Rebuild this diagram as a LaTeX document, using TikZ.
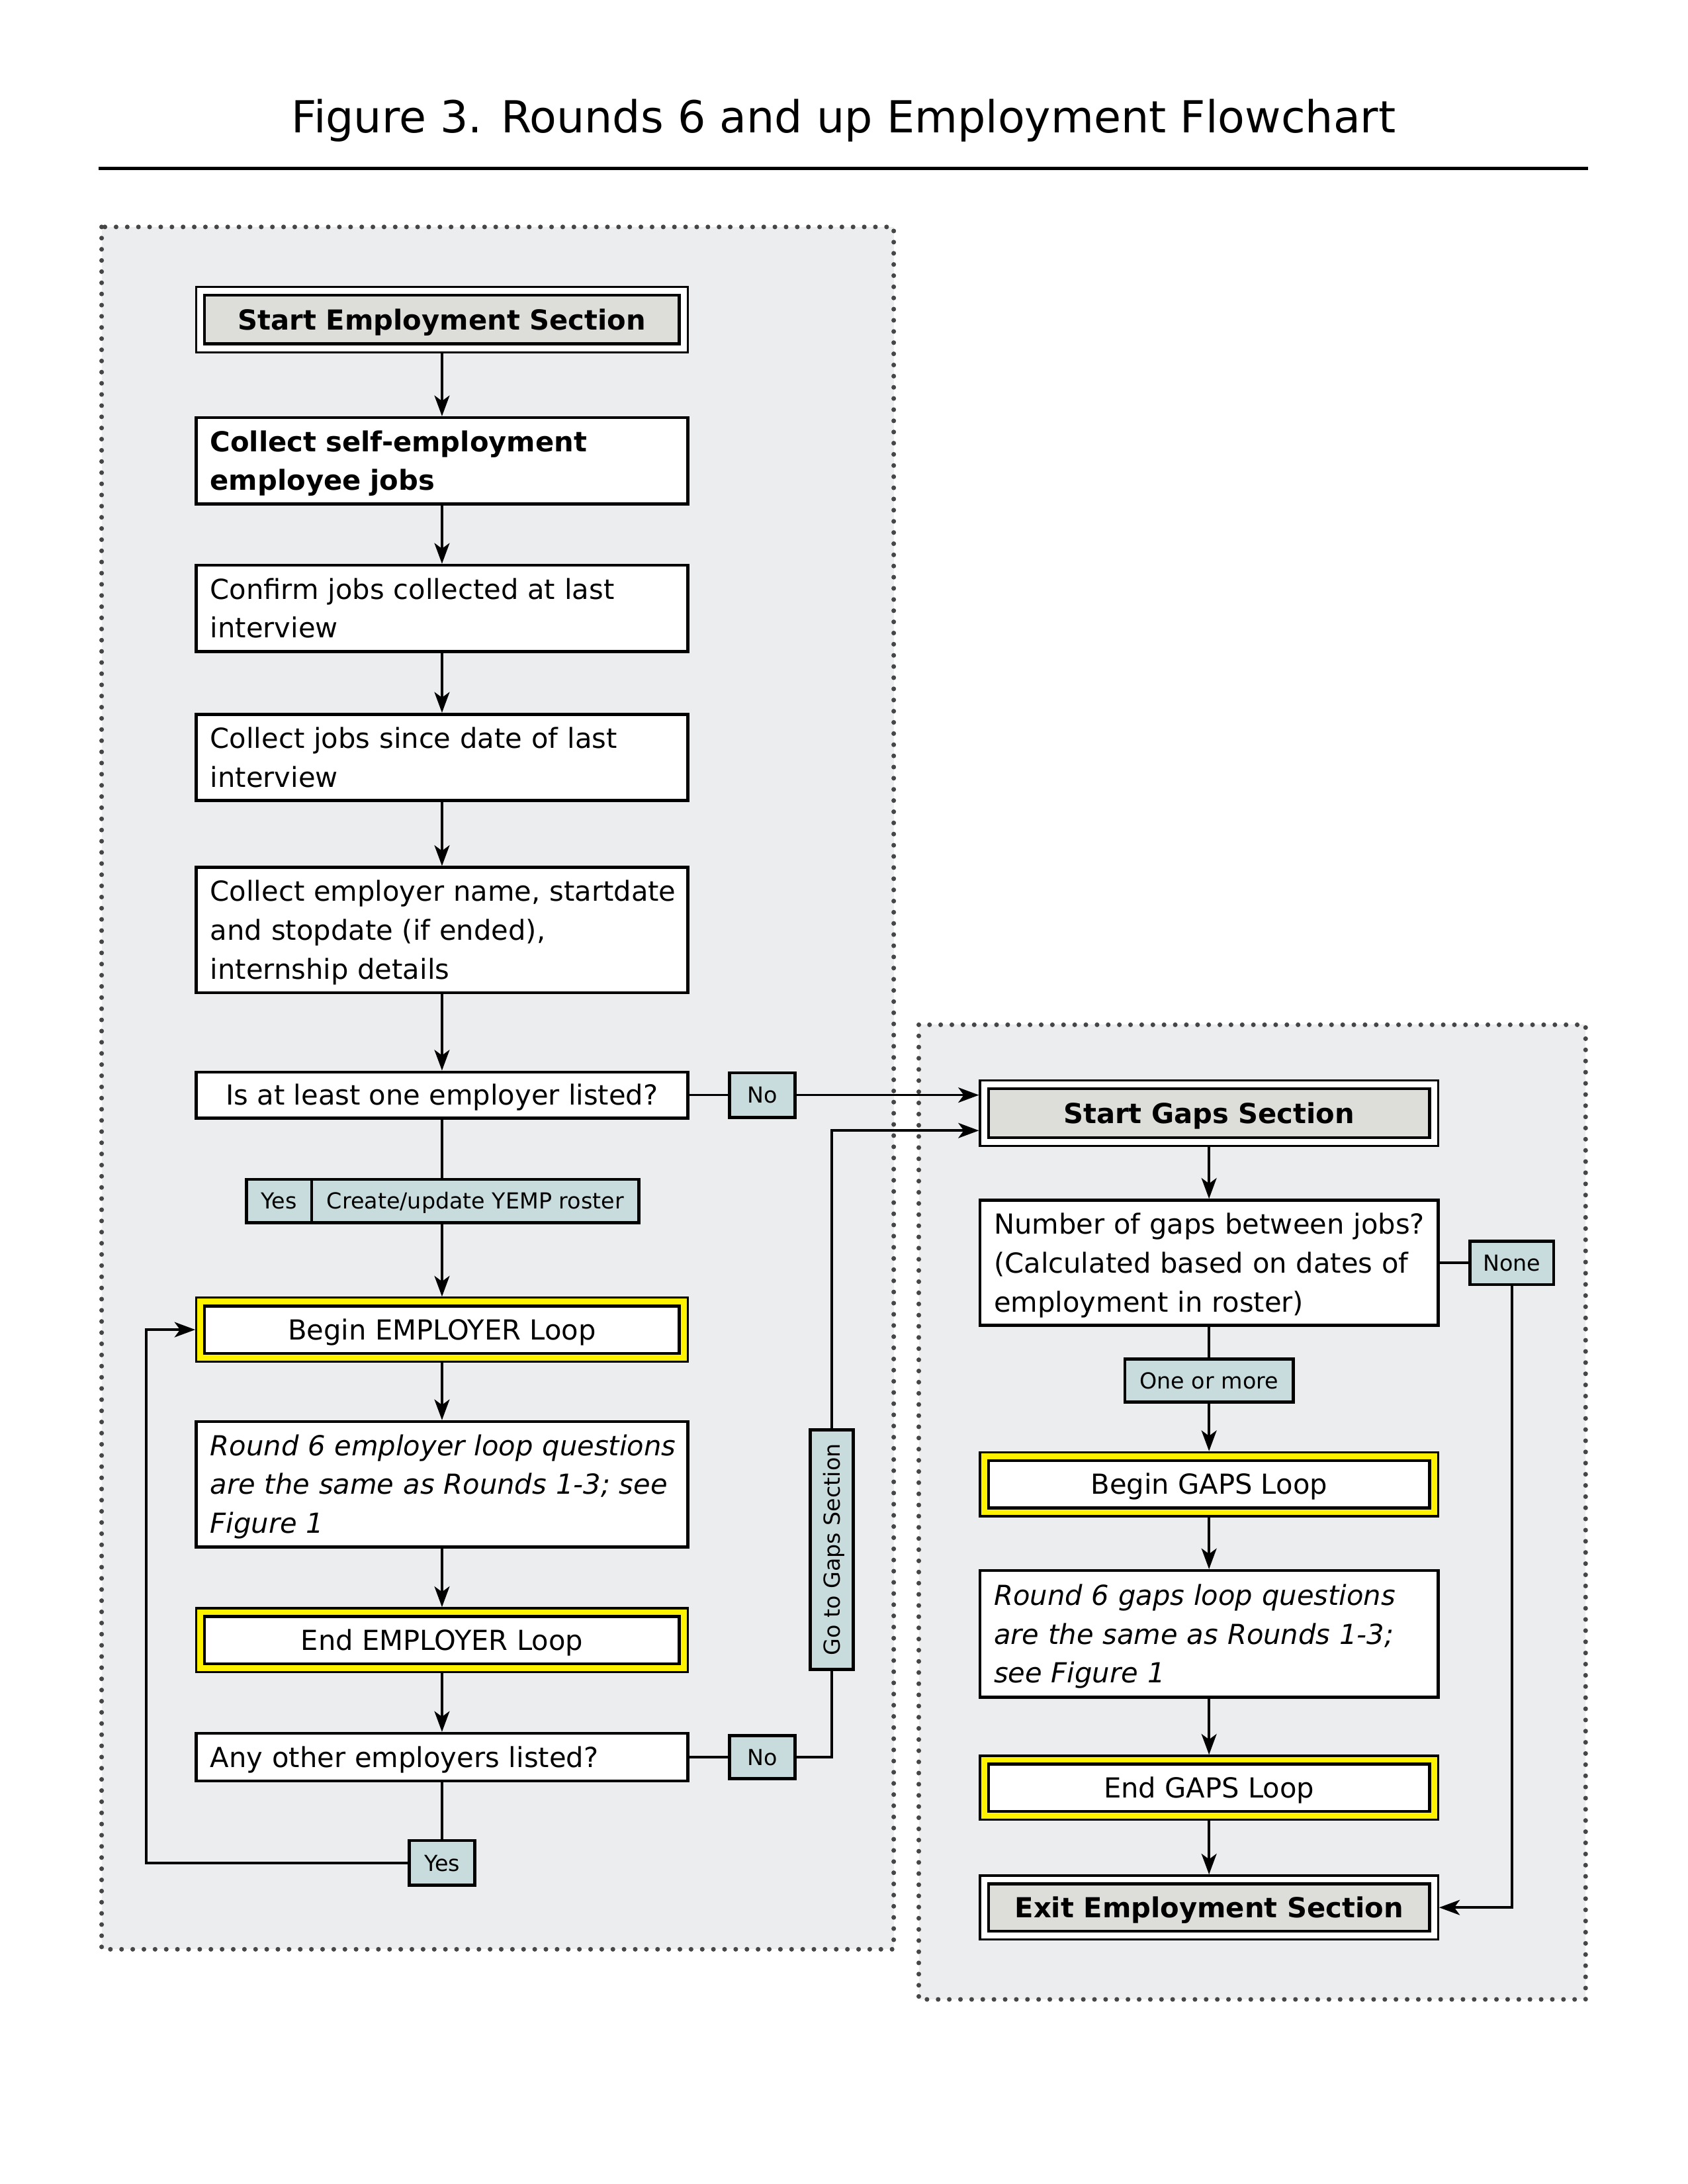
\documentclass[tikz,border=0pt]{standalone}
\usepackage{fontspec}
\setmainfont{DejaVu Sans}
\usetikzlibrary{arrows.meta,calc}
\definecolor{panelgray}{HTML}{ECEDEF}
\definecolor{labelblue}{HTML}{C8DCDD}
\definecolor{innergray}{HTML}{DDDDDA}
\definecolor{loopyellow}{HTML}{FFF200}
\definecolor{dotgray}{HTML}{464646}
\begin{document}
\begin{tikzpicture}[x=0.5049pt,y=-0.5049pt,
  every node/.style={font=\fontsize{10}{14.1}\selectfont},
  lnA/.style={text height=7.3pt,text depth=0pt},
  lnB/.style={text height=7.3pt,text depth=14.1pt},
  lnC/.style={text height=7.3pt,text depth=28.2pt},
  panel/.style={draw=dotgray,fill=panelgray,line width=1.7pt,line cap=round,dash pattern=on 0pt off 4.05pt},
  plainbox/.style={draw=black,fill=white,line width=1.1pt,inner xsep=5.05pt,inner ysep=0pt,align=left},
  lbox/.style={plainbox,minimum width=178.2pt,text width=168.1pt},
  rbox/.style={plainbox,minimum width=166.1pt,text width=156pt},
  outerdbl/.style={draw=black,fill=white,line width=0.8pt,inner sep=0pt},
  innerdbl/.style={draw=black,fill=innergray,line width=1.1pt,inner sep=0pt,lnA,font=\fontsize{10}{14.1}\selectfont\bfseries},
  outerloop/.style={draw=black,fill=loopyellow,line width=0.8pt,inner sep=0pt},
  innerloop/.style={draw=black,fill=white,line width=1.1pt,inner sep=0pt,lnA},
  lab/.style={draw=black,fill=labelblue,line width=1.1pt,inner sep=0pt,text height=5.83pt,text depth=0pt,font=\fontsize{8}{10}\selectfont},
  conn/.style={line width=0.85pt},
  arr/.style={conn,-{Stealth[length=7.5pt,width=5.5pt,inset=2pt]}}
]
\useasboundingbox (0,0) rectangle (1212.1,1568.6);

% title
\node[font=\fontsize{16}{19}\selectfont,text height=11.66pt,text depth=0pt] (title) at (606,84) {Figure 3. Rounds 6 and up Employment Flowchart};
\draw[line width=1.05pt] (71,121) -- (1141,121);

% panels
\draw[panel] (73,163) rectangle (642,1400);
\draw[panel] (660,736) rectangle (1139,1436);

% ---- left column ----
\node[outerdbl,minimum width=178.2pt,minimum height=23.7pt] (semp) at (317.5,229.5) {};
\node[innerdbl,minimum width=172.2pt,minimum height=17.7pt] (sempin) at (semp) {Start Employment Section};

\node[lbox,lnB,minimum height=31.3pt,font=\fontsize{10}{14.1}\selectfont\bfseries] (self) at (317.5,331) {\mbox{Collect self-employment}\\\mbox{employee jobs}};
\node[lbox,lnB,minimum height=31.3pt] (confirm) at (317.5,437) {\mbox{Confirm jobs collected at last}\\\mbox{interview}};
\node[lbox,lnB,minimum height=31.3pt] (since) at (317.5,544) {\mbox{Collect jobs since date of last}\\\mbox{interview}};
\node[lbox,lnC,minimum height=45.4pt] (emp) at (317.5,668) {\mbox{Collect employer name, startdate}\\\mbox{and stopdate (if ended),}\\\mbox{internship details}};
\node[plainbox,lnA,minimum width=178.2pt,minimum height=16.7pt,inner xsep=0pt] (isat) at (317.5,786.5) {Is at least one employer listed?};
\node[lab,minimum width=23.7pt,minimum height=16.2pt] (no1) at (547.5,786.5) {No};
\node[lab,minimum width=23.7pt,minimum height=15.7pt] (yes1) at (200.5,862.5) {Yes};
\node[lab,minimum width=118.7pt,minimum height=15.7pt] (create) at (341.5,862.5) {Create/update YEMP roster};

\node[outerloop,minimum width=178.2pt,minimum height=23.2pt] (bemp) at (317.5,955) {};
\node[innerloop,minimum width=172.2pt,minimum height=17.2pt] (bempin) at (bemp) {Begin EMPLOYER Loop};

\node[lbox,lnC,minimum height=45.4pt,font=\fontsize{10}{14.1}\selectfont\itshape] (r6emp) at (317.5,1066) {\mbox{Round 6 employer loop questions}\\\mbox{are the same as Rounds 1-3; see}\\\mbox{Figure 1}};

\node[outerloop,minimum width=178.2pt,minimum height=23.2pt] (eemp) at (317.5,1178) {};
\node[innerloop,minimum width=172.2pt,minimum height=17.2pt] (eempin) at (eemp) {End EMPLOYER Loop};

\node[lbox,lnA,minimum height=17.2pt] (any) at (317.5,1262) {\mbox{Any other employers listed?}};
\node[lab,minimum width=23.7pt,minimum height=15.7pt] (no2) at (547.5,1262) {No};
\node[lab,minimum width=23.7pt,minimum height=16.2pt] (yes2) at (317.5,1338) {Yes};
\node[lab,minimum width=86.8pt,minimum height=15.7pt,rotate=90] (goto) at (597.5,1113) {Go to Gaps Section};

% ---- right column ----
\node[outerdbl,minimum width=166.1pt,minimum height=23.7pt] (sgaps) at (868.5,799.5) {};
\node[innerdbl,minimum width=160pt,minimum height=17.7pt] (sgapsin) at (sgaps) {Start Gaps Section};

\node[rbox,lnC,minimum height=45.4pt] (ngaps) at (868.5,907) {\mbox{Number of gaps between jobs?}\\\mbox{(Calculated based on dates of}\\\mbox{employment in roster)}};
\node[lab,minimum width=30.3pt,minimum height=15.7pt] (none) at (1086,907) {None};
\node[lab,minimum width=61.1pt,minimum height=15.7pt] (onemore) at (868.5,991.5) {One or more};

\node[outerloop,minimum width=166.1pt,minimum height=23.2pt] (bgaps) at (868.5,1066) {};
\node[innerloop,minimum width=160pt,minimum height=17.2pt] (bgapsin) at (bgaps) {Begin GAPS Loop};

\node[rbox,lnC,minimum height=45.9pt,font=\fontsize{10}{14.1}\selectfont\itshape] (r6gaps) at (868.5,1173.5) {\mbox{Round 6 gaps loop questions}\\\mbox{are the same as Rounds 1-3;}\\\mbox{see Figure 1}};

\node[outerloop,minimum width=166.1pt,minimum height=23.2pt] (egaps) at (868.5,1284) {};
\node[innerloop,minimum width=160pt,minimum height=17.2pt] (egapsin) at (egaps) {End GAPS Loop};

\node[outerdbl,minimum width=166.1pt,minimum height=23.2pt] (exit) at (868.5,1370) {};
\node[innerdbl,minimum width=160pt,minimum height=17.2pt] (exitin) at (exit) {Exit Employment Section};

% ---- connectors left ----
\draw[arr] (semp) -- (self);
\draw[arr] (self) -- (confirm);
\draw[arr] (confirm) -- (since);
\draw[arr] (since) -- (emp);
\draw[arr] (emp) -- (isat);
\draw[conn] (isat.east) -- (no1.west);
\draw[arr] (no1.east) -- (no1.east -| sgaps.west);
\draw[conn] (isat.south) -- (isat.south |- create.north);
\draw[arr] (isat.south |- create.south) -- (bemp.north);
\draw[arr] (bemp) -- (r6emp);
\draw[arr] (r6emp) -- (eemp);
\draw[arr] (eemp) -- (any);
\draw[conn] (any) -- (yes2);
\draw[arr] (yes2.west) -- ++(-188,0) |- (bemp.west);
\draw[conn] (any.east) -- (no2.west);
\draw[conn] (no2.east) -| (goto.west);
\draw[arr] (goto.east) |- ([yshift=-6.3pt]sgaps.west);

% ---- connectors right ----
\draw[arr] (sgaps) -- (ngaps);
\draw[conn] (ngaps) -- (onemore);
\draw[arr] (onemore) -- (bgaps);
\draw[arr] (bgaps) -- (r6gaps);
\draw[arr] (r6gaps) -- (egaps);
\draw[arr] (egaps) -- (exit);
\draw[conn] (ngaps.east |- none) -- (none.west);
\draw[arr] (none.south) |- (exit.east);
\end{tikzpicture}
\end{document}
